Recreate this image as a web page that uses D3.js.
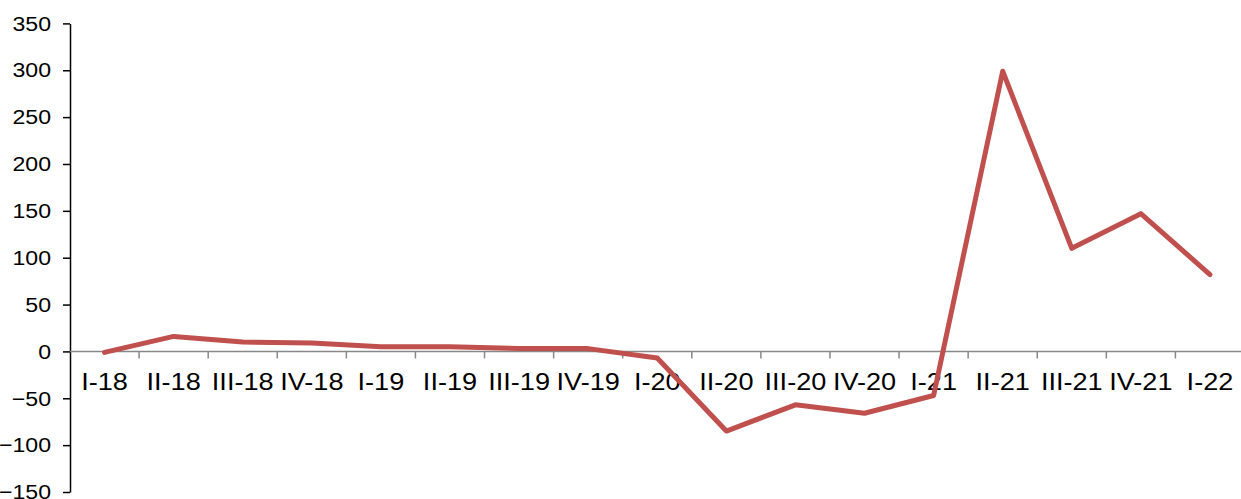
<!DOCTYPE html>
<html>
<head>
<meta charset="utf-8">
<script src="https://cdn.jsdelivr.net/npm/d3@7"></script>
<style>
  body { margin: 0; background: #fff; }
  svg { display: block; }
  text { font-family: "Liberation Sans", Arial, sans-serif; fill: #000; }
</style>
</head>
<body>
<div id="chart"></div>
<script>
// Quarter labels and values
const quarters = ["I-18", "II-18", "III-18", "IV-18", "I-19", "II-19", "III-19", "IV-19",
    "I-20", "II-20", "III-20", "IV-20", "I-21", "II-21", "III-21", "IV-21", "I-22"];
const values = [-1, 16, 10, 9, 5, 5, 3, 3, -7, -85, -57, -66, -47, 299, 110, 147, 82];
const yTicks = [-150, -100, -50, 0, 50, 100, 150, 200, 250, 300, 350];

const W = 1241, H = 499;
// the original text is a little stretched sideways
const stretchX = 1.13, stretchY = 1.1;

const svg = d3.select("#chart")
    .append("svg")
    .attr("width", W)
    .attr("height", H);

// X scale (bands, the last one runs a bit past the edge like the original)
const x = d3.scaleBand()
    .domain(quarters)
    .range([70, 1244.5]);

// Y scale
const y = d3.scaleLinear()
    .domain([-150, 350])
    .range([492, 23.4]);

// Y axis
const yAxis = svg.append("g")
    .attr("transform", "translate(70,0)")
    .call(d3.axisLeft(y).tickValues(yTicks).tickSize(7).tickPadding(12).tickSizeOuter(0));
yAxis.select(".domain").attr("stroke", "#000").attr("stroke-width", 1.5);
yAxis.selectAll(".tick line").attr("stroke", "#000").attr("stroke-width", 1.5);
yAxis.selectAll("text")
    .style("font-size", "21px")
    .attr("x", -19 / stretchY)
    .attr("transform", `scale(${stretchY},1)`);

// X axis at zero: labels centred in bands
const xAxis = svg.append("g")
    .attr("transform", `translate(0,${y(0)})`)
    .call(d3.axisBottom(x).tickSize(0).tickPadding(22).tickSizeOuter(0));
xAxis.select(".domain").remove();
xAxis.selectAll("text")
    .style("font-size", "24px")
    .attr("transform", `scale(${stretchX},1)`);

// grey baseline and boundary ticks
svg.append("line")
    .attr("x1", 70).attr("x2", W)
    .attr("y1", y(0)).attr("y2", y(0))
    .attr("stroke", "#888").attr("stroke-width", 1.5);

svg.selectAll(".xtick")
    .data(quarters)
    .enter()
    .append("line")
    .attr("class", "xtick")
    .attr("x1", d => x(d) + x.bandwidth())
    .attr("x2", d => x(d) + x.bandwidth())
    .attr("y1", y(0))
    .attr("y2", y(0) + 7)
    .attr("stroke", "#888")
    .attr("stroke-width", 1.5);

// Line
const line = d3.line()
    .x((d, i) => x(quarters[i]) + x.bandwidth() / 2)
    .y(d => y(d));

svg.append("path")
    .datum(values)
    .attr("d", line)
    .attr("fill", "none")
    .attr("stroke", "#C0504D")
    .attr("stroke-width", 5)
    .attr("stroke-linejoin", "round")
    .attr("stroke-linecap", "round");
</script>
</body>
</html>
